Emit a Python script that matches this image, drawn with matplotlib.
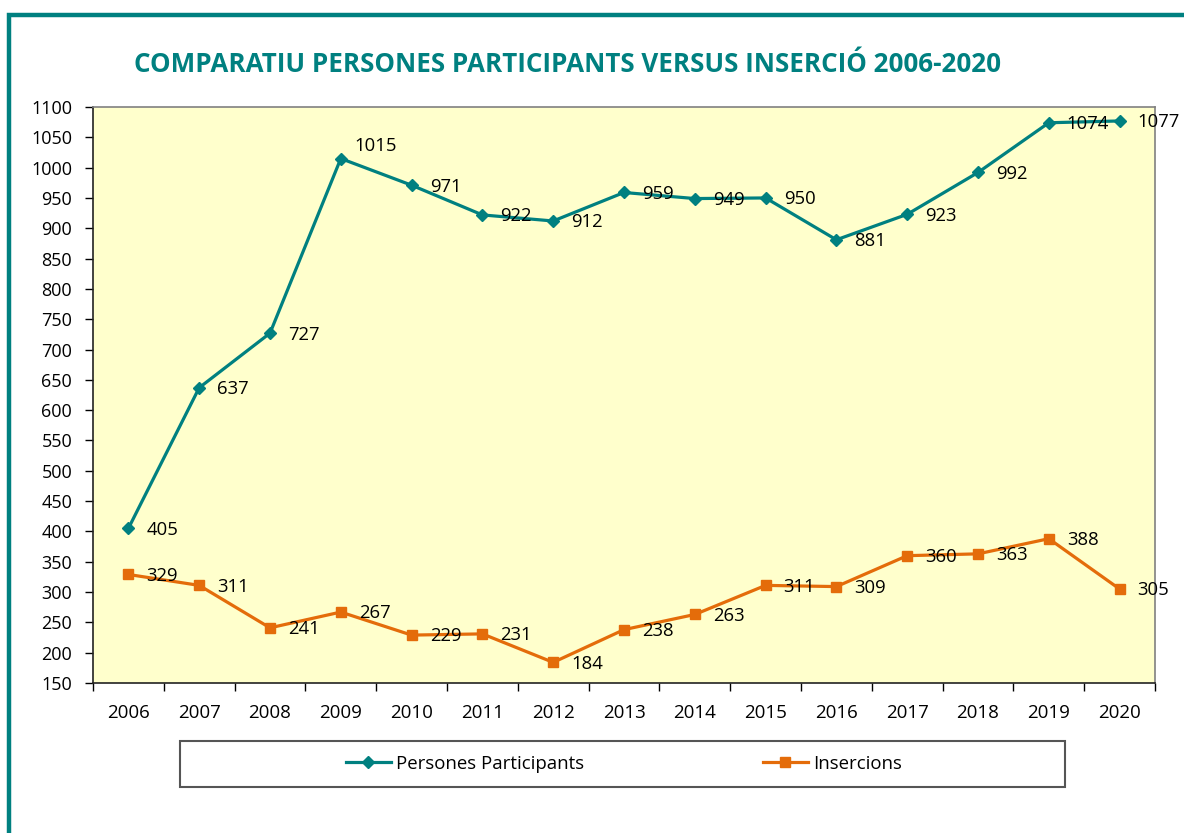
import matplotlib.pyplot as plt
from matplotlib.patches import Rectangle
from matplotlib.lines import Line2D

years = ["2006", "2007", "2008", "2009", "2010", "2011", "2012", "2013",
         "2014", "2015", "2016", "2017", "2018", "2019", "2020"]
participants = [405, 637, 727, 1015, 971, 922, 912, 959, 949, 950, 881, 923, 992, 1074, 1077]
insercions = [329, 311, 241, 267, 229, 231, 184, 238, 263, 311, 309, 360, 363, 388, 305]

teal = "#008080"
orange = "#E46C0A"

plt.rcParams["font.family"] = ["Open Sans", "DejaVu Sans"]

W, H = 1184, 833
fig = plt.figure(figsize=(W / 100, H / 100), dpi=100)

# outer teal frame (cut off at right and bottom)
fig.patches.append(Rectangle((9 / W, -0.1), 1.2, 1 - 15 / H + 0.1, transform=fig.transFigure,
                             fill=False, edgecolor=teal, linewidth=3.2, clip_on=False))

fig.text(567 / W, 1 - 64 / H, "COMPARATIU PERSONES PARTICIPANTS VERSUS INSERCIÓ 2006-2020",
         ha="center", va="center", color=teal, fontsize=18.7, fontweight="bold")

ax = fig.add_axes([93 / W, (H - 683) / H, 1062 / W, 576 / H])
ax.set_facecolor("#FFFFCC")

x = list(range(len(years)))
ax.plot(x, participants, color=teal, lw=2.3, marker="D", ms=6.5, zorder=3)
ax.plot(x, insercions, color=orange, lw=2.3, marker="s", ms=7.5, zorder=3)

for i, v in enumerate(participants):
    off = (10, 9) if v == 1015 else (13, -1)
    ax.annotate(str(v), (i, v), xytext=off, textcoords="offset points",
                ha="left", va="center", fontsize=13.3, color="black", zorder=4)
for i, v in enumerate(insercions):
    ax.annotate(str(v), (i, v), xytext=(13, -1), textcoords="offset points",
                ha="left", va="center", fontsize=13.3, color="black", zorder=4)

ax.set_xlim(-0.5, len(years) - 0.5)
ax.set_ylim(150, 1100)
ax.set_yticks(range(150, 1101, 50))
ax.tick_params(axis="y", direction="out", length=6, width=1, pad=9, labelsize=13)

ax.set_xticks([i - 0.5 for i in range(len(years) + 1)])
ax.set_xticklabels([])
ax.set_xticks(x, minor=True)
ax.set_xticklabels(years, minor=True)
ax.tick_params(axis="x", which="major", direction="out", length=6, width=1)
ax.tick_params(axis="x", which="minor", length=0, pad=15, labelsize=13.5)

for side in ["top", "right"]:
    ax.spines[side].set_color("#808080")
for side in ["left", "bottom"]:
    ax.spines[side].set_color("#222222")
for s in ax.spines.values():
    s.set_linewidth(1.2)

# legend box
fig.patches.append(Rectangle((180 / W, (H - 787) / H), 885 / W, 46 / H, transform=fig.transFigure,
                             fill=False, edgecolor="#555555", linewidth=1.5))
handles = [Line2D([], [], color=teal, lw=2.3, marker="D", ms=6.5),
           Line2D([], [], color=orange, lw=2.3, marker="s", ms=7.5)]
fig.legend(handles, ["Persones Participants", "Insercions"], loc="center",
           bbox_to_anchor=(624 / W, (H - 764) / H), ncol=2, frameon=False,
           fontsize=13.4, handlelength=2.4, handletextpad=0.3, columnspacing=9.6)

fig.savefig("out.png", dpi=100)
